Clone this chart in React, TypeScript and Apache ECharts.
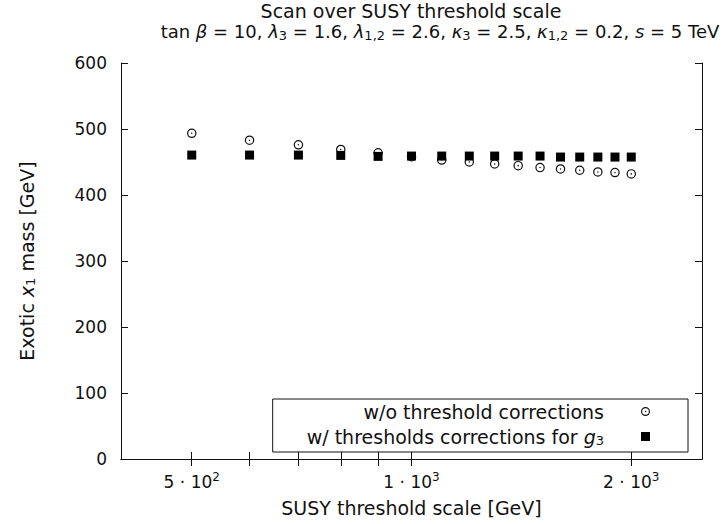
import React, { useEffect, useRef } from 'react';
import * as echarts from 'echarts';

const scales = [500, 600, 700, 800, 900, 1000, 1100, 1200, 1300, 1400, 1500, 1600, 1700, 1800, 1900, 2000];
const massWithout = [493.5, 483, 476, 469, 464, 458, 453, 450, 447, 444.5, 441.5, 439.5, 437.5, 435, 434, 432];
const massWith = [460.5, 460.5, 460.5, 460, 458.5, 459, 459, 459, 459, 459, 459, 457.5, 457.5, 457.5, 457.5, 457.5];

const xTickValues = [500, 600, 700, 800, 900, 1000, 2000];
const xLabelValues = [500, 1000, 2000];
const xLabelMantissa = ['5', '1', '2'];
const xLabelExponent = ['2', '3', '3'];

const seriesNames = ['w/o threshold corrections', 'w/ thresholds corrections for g3'];

const FONT = 'DejaVu Sans';
const INK = '#111';
const WORD_SIZE = 19;

const ringPath =
  'path://M10 0A10 10 0 1 1 10 20A10 10 0 1 1 10 0Z' +
  'M10 2.6A7.4 7.4 0 1 0 10 17.4A7.4 7.4 0 1 0 10 2.6Z' +
  'M10 8.4A1.6 1.6 0 1 1 10 11.6A1.6 1.6 0 1 1 10 8.4Z';

const makeSubRich = (size: number) => ({
  i: { fontFamily: FONT, fontSize: size, fontStyle: 'italic', color: INK, lineHeight: 21 },
  sub: { fontFamily: FONT, fontSize: Math.round(size * 0.7), color: INK, lineHeight: 12, verticalAlign: 'bottom' },
});

const supRich = {
  b: { fontFamily: FONT, fontSize: 17, color: INK, lineHeight: 22 },
  sup: { fontFamily: FONT, fontSize: 12, color: INK, lineHeight: 12, verticalAlign: 'top' },
};

export default function App() {
  const ref = useRef<HTMLDivElement>(null);

  useEffect(() => {
    if (!ref.current) return;
    const chart = echarts.init(ref.current, undefined, { renderer: 'svg' });

    const xLabelFormatter = (v: number) => {
      const idx = xLabelValues.findIndex((t) => Math.abs(t - v) < 1e-6 * t);
      if (idx < 0) return '';
      return `{b|${xLabelMantissa[idx]} · 10}{sup|${xLabelExponent[idx]}}`;
    };

    const axisLine = { show: true, lineStyle: { color: INK, width: 1 } };
    const tickStyle = { color: INK, width: 1 };

    const option: any = {
      animation: false,
      backgroundColor: '#fff',
      title: [
        {
          left: 411,
          top: 0,
          textAlign: 'center',
          padding: 0,
          text: 'Scan over SUSY threshold scale',
          textStyle: { fontFamily: FONT, fontSize: WORD_SIZE, fontWeight: 'normal', color: INK, lineHeight: 21 },
        },
        {
          left: 440,
          top: 21,
          textAlign: 'center',
          padding: 0,
          text:
            'tan {i|β} = 10, {i|λ}{sub|3} = 1.6, {i|λ}{sub|1,2} = 2.6, {i|κ}{sub|3} = 2.5, {i|κ}{sub|1,2} = 0.2, {i|s} = 5 TeV',
          textStyle: {
            fontFamily: FONT,
            fontSize: 18,
            fontWeight: 'normal',
            color: INK,
            lineHeight: 21,
            rich: makeSubRich(18),
          },
        },
      ],
      grid: {
        left: 121,
        right: 23,
        top: 63,
        bottom: 65,
        containLabel: false,
        outerBoundsMode: 'none',
      },
      legend: {
        orient: 'vertical',
        right: 37,
        top: 399,
        align: 'right',
        selectedMode: false,
        itemWidth: 9,
        itemHeight: 9,
        itemGap: 4,
        padding: [2, 38, 5, 34],
        borderColor: INK,
        borderWidth: 1,
        borderRadius: 0,
        backgroundColor: '#fff',
        textStyle: {
          fontFamily: FONT,
          fontSize: WORD_SIZE,
          color: INK,
          lineHeight: 21,
          padding: [0, 32, 0, 0],
          rich: makeSubRich(WORD_SIZE),
        },
        formatter: (name: string) =>
          name === seriesNames[1] ? 'w/ thresholds corrections for {i|g}{sub|3}' : name,
        data: [
          { name: seriesNames[0], icon: ringPath },
          { name: seriesNames[1], icon: 'rect' },
        ],
      },
      xAxis: [
        {
          type: 'log',
          logBase: 10,
          min: 400,
          max: 2500,
          position: 'bottom',
          axisLine,
          axisTick: { show: true, inside: true, length: 7, customValues: xTickValues, lineStyle: tickStyle },
          minorTick: { show: false },
          splitLine: { show: false },
          axisLabel: {
            show: true,
            customValues: xLabelValues,
            formatter: xLabelFormatter,
            margin: 12,
            rich: supRich,
          },
          name: 'SUSY threshold scale [GeV]',
          nameLocation: 'middle',
          nameGap: 39,
          nameTextStyle: { fontFamily: FONT, fontSize: WORD_SIZE, color: INK },
        },
        {
          type: 'log',
          logBase: 10,
          min: 400,
          max: 2500,
          position: 'top',
          axisLine,
          axisTick: { show: true, inside: true, length: 7, customValues: xTickValues, lineStyle: tickStyle },
          minorTick: { show: false },
          splitLine: { show: false },
          axisLabel: { show: false },
        },
      ],
      yAxis: [
        {
          type: 'value',
          min: 0,
          max: 600,
          interval: 100,
          position: 'left',
          axisLine,
          axisTick: { show: true, inside: true, length: 7, lineStyle: tickStyle },
          splitLine: { show: false },
          axisLabel: { fontFamily: FONT, fontSize: 17, color: INK, margin: 14 },
          name: 'Exotic {i|x}{sub|1} mass [GeV]',
          nameLocation: 'middle',
          nameGap: 84,
          nameTextStyle: {
            fontFamily: FONT,
            fontSize: WORD_SIZE,
            color: INK,
            lineHeight: 21,
            rich: makeSubRich(WORD_SIZE),
          },
        },
        {
          type: 'value',
          min: 0,
          max: 600,
          interval: 100,
          position: 'right',
          axisLine,
          axisTick: { show: true, inside: true, length: 7, lineStyle: tickStyle },
          splitLine: { show: false },
          axisLabel: { show: false },
        },
      ],
      series: [
        {
          name: seriesNames[0],
          type: 'scatter',
          xAxisIndex: 0,
          yAxisIndex: 0,
          symbol: ringPath,
          symbolSize: 9.5,
          itemStyle: { color: INK, opacity: 1 },
          data: scales.map((x, i) => [x, massWithout[i]]),
        },
        {
          name: seriesNames[1],
          type: 'scatter',
          xAxisIndex: 0,
          yAxisIndex: 0,
          symbol: 'rect',
          symbolSize: 9,
          itemStyle: { color: '#000', opacity: 1 },
          data: scales.map((x, i) => [x, massWith[i]]),
        },
      ],
    };

    chart.setOption(option);
    return () => chart.dispose();
  }, []);

  return (
    <div
      ref={ref}
      style={{ position: 'absolute', left: 0, top: 0, width: 725, height: 524, background: '#fff' }}
    />
  );
}
